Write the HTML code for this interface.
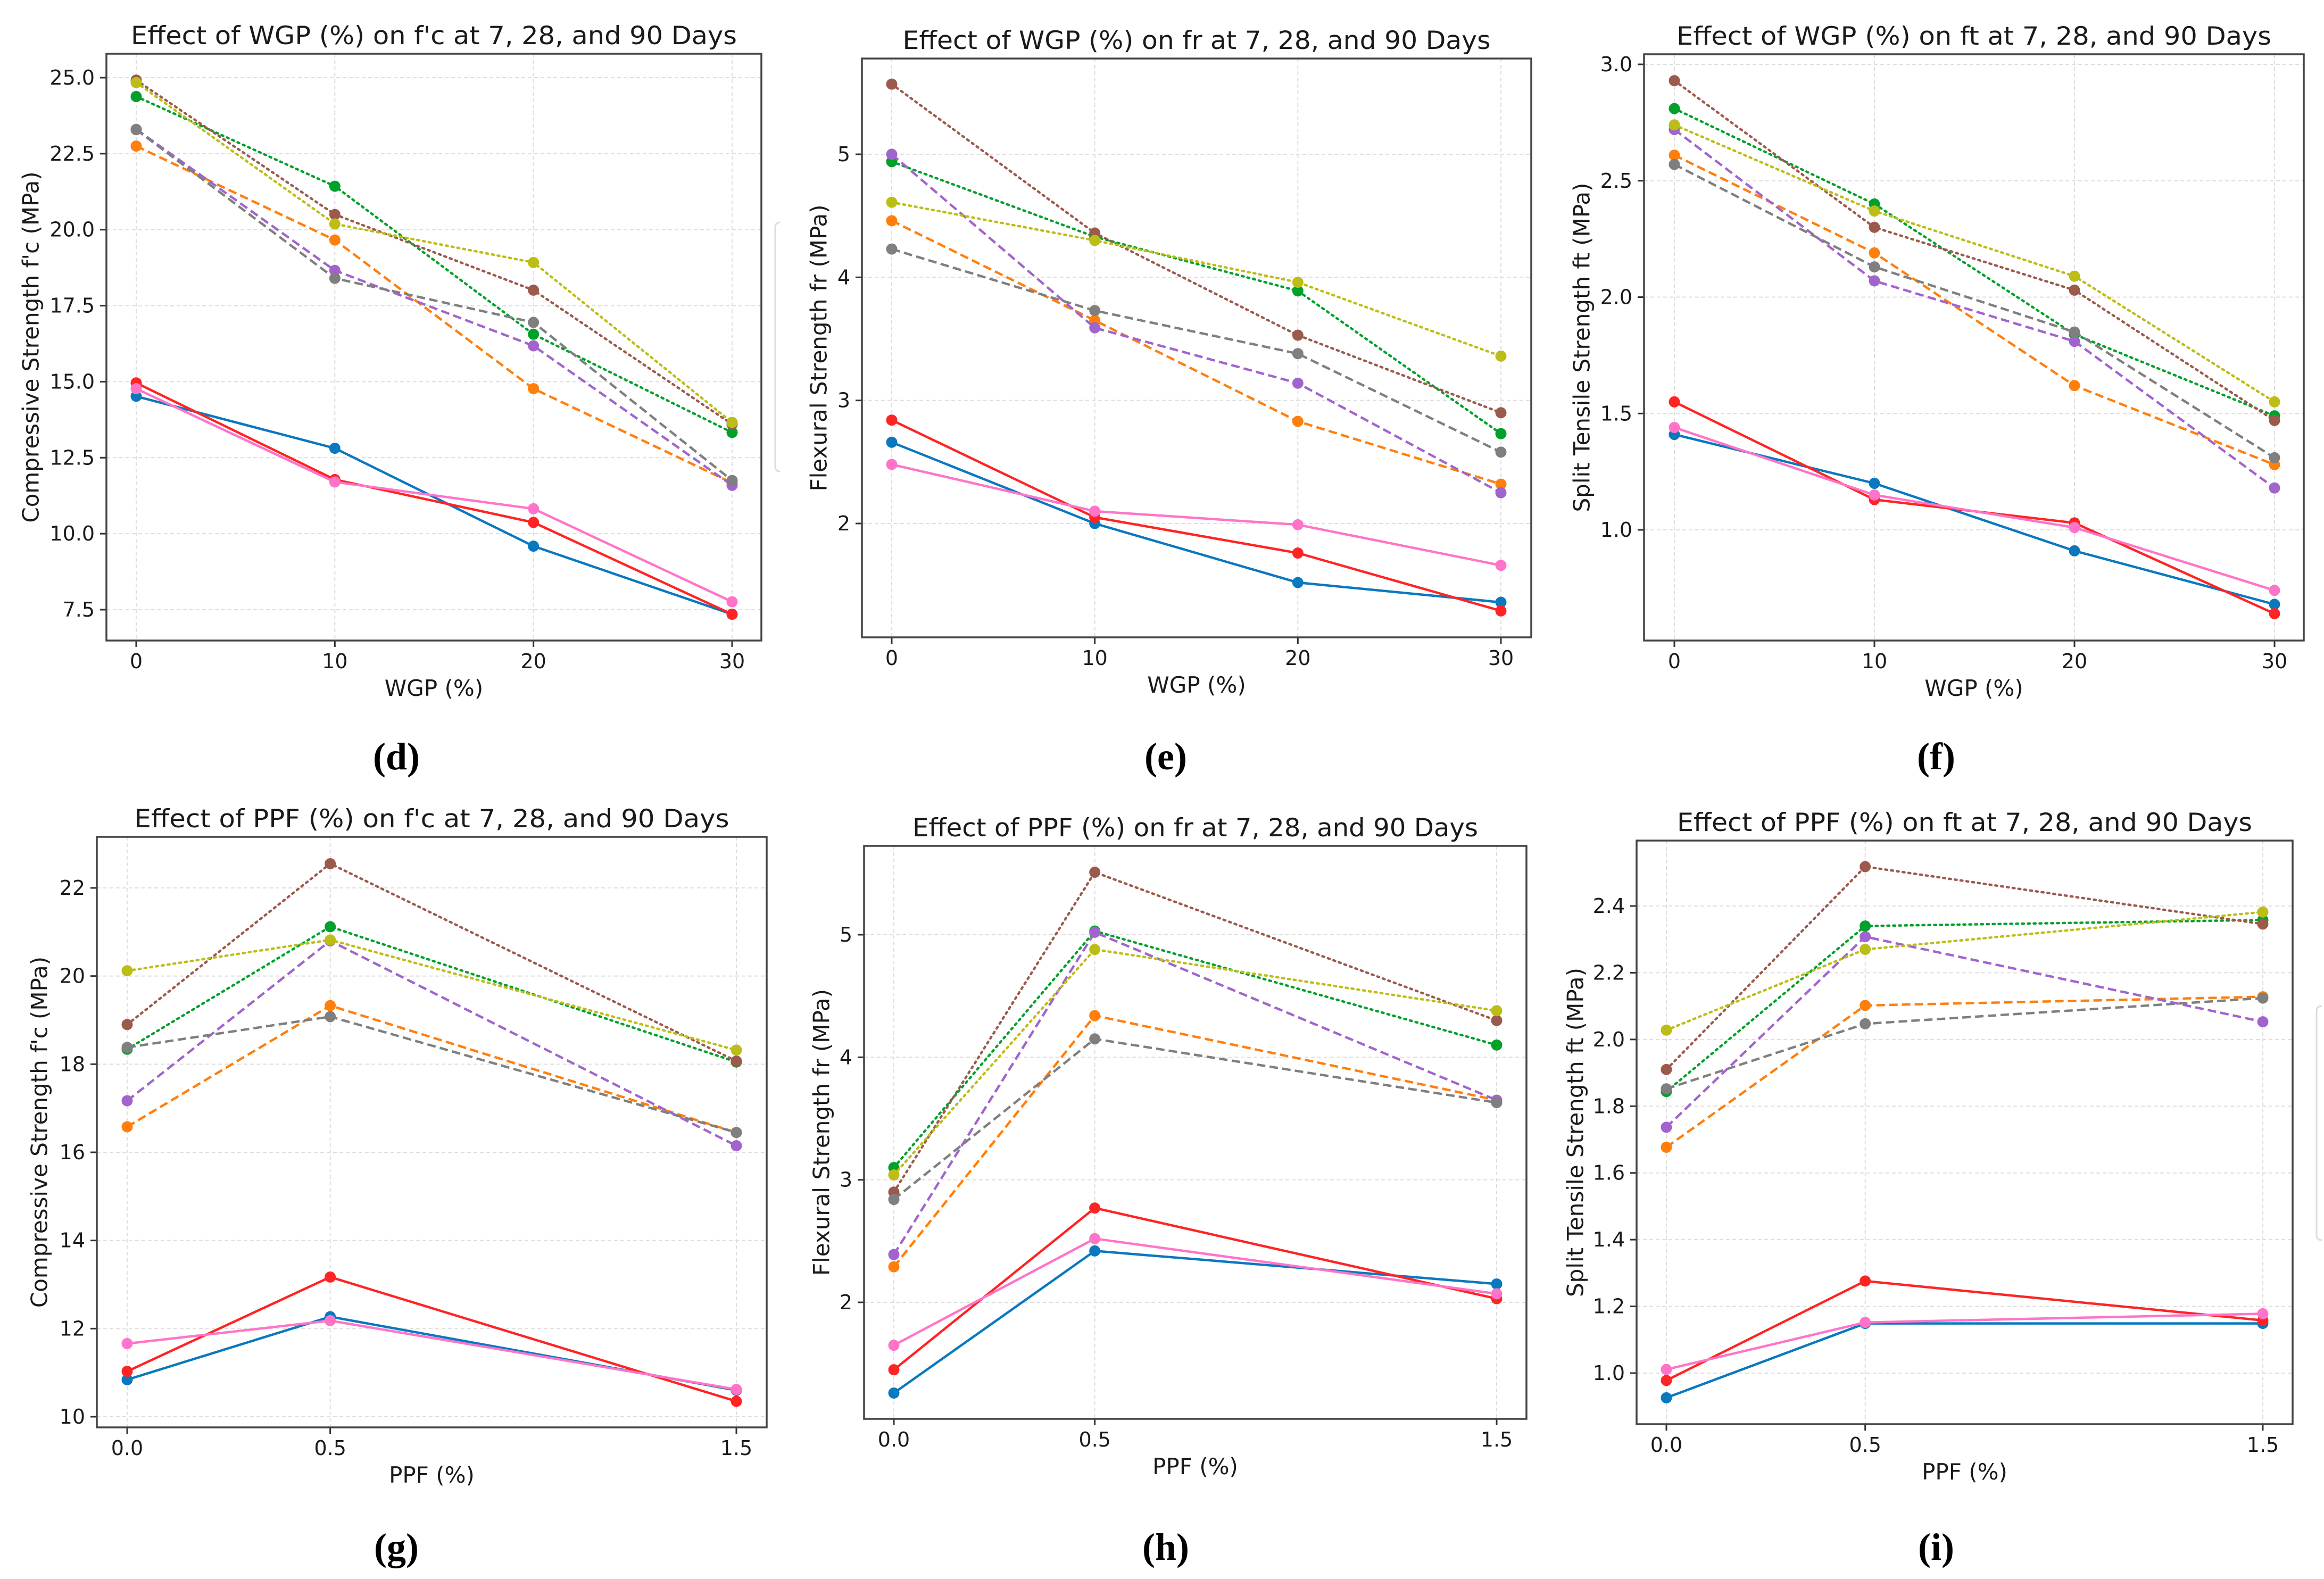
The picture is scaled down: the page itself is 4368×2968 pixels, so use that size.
<!DOCTYPE html>
<html><head><meta charset="utf-8">
<style>
html,body{margin:0;padding:0;background:#fff;}
svg{display:block;}
text{font-family:"DejaVu Sans","Liberation Sans",sans-serif;fill:#1a1a1a;}
.cap{font-family:"Liberation Serif",serif;font-weight:bold;fill:#000;}
</style></head>
<body>
<svg id="fig" xmlns="http://www.w3.org/2000/svg" width="4368" height="2968" viewBox="0 0 4368 2968">
<rect width="4368" height="2968" fill="#fff"/>
<path d="M1466 418 Q1457 418 1457 428 L1457 876 Q1457 886 1466 886" fill="none" stroke="#dcdcdc" stroke-width="3"/>
<path d="M4364 1891 Q4354 1891 4354 1901 L4354 2321 Q4354 2331 4364 2331" fill="none" stroke="#dcdcdc" stroke-width="3"/>
</svg>
<script>
// ---- categories ----
const wgpCats = [0, 10, 20, 30];
const ppfCats = [0, 0.5, 1.5];
// ---- panel d: f'c vs WGP ----
const dBlue   = [14.52, 12.81, 9.59, 7.35];
const dOrange = [22.75, 19.66, 14.77, 11.67];
const dGreen  = [24.38, 21.43, 16.56, 13.33];
const dRed    = [14.96, 11.78, 10.37, 7.35];
const dPurple = [23.30, 18.66, 16.18, 11.59];
const dBrown  = [24.92, 20.50, 18.01, 13.60];
const dPink   = [14.77, 11.70, 10.82, 7.76];
const dGrey   = [23.29, 18.40, 16.95, 11.75];
const dOlive  = [24.84, 20.19, 18.92, 13.66];
const dTicks  = [7.5, 10.0, 12.5, 15.0, 17.5, 20.0, 22.5, 25.0];
const dTickLabels = ["7.5","10.0","12.5","15.0","17.5","20.0","22.5","25.0"];
// ---- panel e: fr vs WGP ----
const eBlue   = [2.66, 2.00, 1.52, 1.36];
const eOrange = [4.46, 3.65, 2.83, 2.32];
const eGreen  = [4.94, 4.33, 3.89, 2.73];
const eRed    = [2.84, 2.05, 1.76, 1.29];
const ePurple = [5.00, 3.59, 3.14, 2.25];
const eBrown  = [5.57, 4.36, 3.53, 2.90];
const ePink   = [2.48, 2.10, 1.99, 1.66];
const eGrey   = [4.23, 3.73, 3.38, 2.58];
const eOlive  = [4.61, 4.30, 3.96, 3.36];
const eTicks  = [2, 3, 4, 5];
const eTickLabels = ["2","3","4","5"];
// ---- panel f: ft vs WGP ----
const fBlue   = [1.41, 1.20, 0.91, 0.68];
const fOrange = [2.61, 2.19, 1.62, 1.28];
const fGreen  = [2.81, 2.40, 1.84, 1.49];
const fRed    = [1.55, 1.13, 1.03, 0.64];
const fPurple = [2.72, 2.07, 1.81, 1.18];
const fBrown  = [2.93, 2.30, 2.03, 1.47];
const fPink   = [1.44, 1.15, 1.01, 0.74];
const fGrey   = [2.57, 2.13, 1.85, 1.31];
const fOlive  = [2.74, 2.37, 2.09, 1.55];
const fTicks  = [1.0, 1.5, 2.0, 2.5, 3.0];
const fTickLabels = ["1.0","1.5","2.0","2.5","3.0"];
// ---- panel g: f'c vs PPF ----
const gBlue   = [10.84, 12.27, 10.60];
const gOrange = [16.58, 19.33, 16.45];
const gGreen  = [18.34, 21.12, 18.05];
const gRed    = [11.03, 13.17, 10.35];
const gPurple = [17.17, 20.80, 16.15];
const gBrown  = [18.90, 22.55, 18.07];
const gPink   = [11.66, 12.18, 10.62];
const gGrey   = [18.38, 19.08, 16.45];
const gOlive  = [20.12, 20.82, 18.32];
const gTicks  = [10, 12, 14, 16, 18, 20, 22];
const gTickLabels = ["10","12","14","16","18","20","22"];
// ---- panel h: fr vs PPF ----
const hBlue   = [1.26, 2.42, 2.15];
const hOrange = [2.29, 4.34, 3.65];
const hGreen  = [3.10, 5.03, 4.10];
const hRed    = [1.45, 2.77, 2.03];
const hPurple = [2.39, 5.02, 3.65];
const hBrown  = [2.90, 5.51, 4.30];
const hPink   = [1.65, 2.52, 2.07];
const hGrey   = [2.84, 4.15, 3.63];
const hOlive  = [3.04, 4.88, 4.38];
const hTicks  = [2, 3, 4, 5];
const hTickLabels = ["2","3","4","5"];
// ---- panel i: ft vs PPF ----
const iBlue   = [0.926, 1.149, 1.149];
const iOrange = [1.677, 2.102, 2.128];
const iGreen  = [1.844, 2.340, 2.358];
const iRed    = [0.978, 1.276, 1.158];
const iPurple = [1.737, 2.308, 2.053];
const iBrown  = [1.910, 2.518, 2.346];
const iPink   = [1.011, 1.152, 1.178];
const iGrey   = [1.852, 2.047, 2.124];
const iOlive  = [2.028, 2.270, 2.382];
const iTicks  = [1.0, 1.2, 1.4, 1.6, 1.8, 2.0, 2.2, 2.4];
const iTickLabels = ["1.0","1.2","1.4","1.6","1.8","2.0","2.2","2.4"];

const wgpLabels = ["0","10","20","30"];
const ppfLabels = ["0.0","0.5","1.5"];

const NS = "http://www.w3.org/2000/svg";
const svg = document.getElementById("fig");
function mk(tag, attrs, parent){
  const e = document.createElementNS(NS, tag);
  for (const k in attrs) e.setAttribute(k, attrs[k]);
  (parent||svg).appendChild(e);
  return e;
}
const styles = [
  {key:"blue",   color:"#0a78bf", dash:null},
  {key:"orange", color:"#ff7f0e", dash:"16 8"},
  {key:"green",  color:"#00a12a", dash:"3.5 7.5"},
  {key:"red",    color:"#ff2424", dash:null},
  {key:"purple", color:"#a164cc", dash:"16 8"},
  {key:"brown",  color:"#9c5a4c", dash:"3.5 7.5"},
  {key:"pink",   color:"#ff74c8", dash:null},
  {key:"grey",   color:"#7f7f7f", dash:"16 8"},
  {key:"olive",  color:"#bcbd16", dash:"3.5 7.5"}
];

function panel(p){
  const g = mk("g", {});
  
  
  const [L,T,R,B] = p.box;
  const xs = v => p.x0px + (v - p.x0v) * (p.x1px - p.x0px) / (p.x1v - p.x0v);
  const ys = v => p.y0px + (v - p.y0v) * (p.y1px - p.y0px) / (p.y1v - p.y0v);
  p.yTicks.forEach((t,i)=>{
    const y = ys(t);
    const gl = mk("line",{x1:L,x2:R,y1:y,y2:y,stroke:"#dedede","stroke-width":2,"stroke-dasharray":"7 5"},g);
    
    
    const tk = mk("line",{x1:L-12,x2:L,y1:y,y2:y,stroke:"#333","stroke-width":3},g);
    
    
    const tl = mk("text",{x:L-22,y:y,"font-size":38,"text-anchor":"end","dominant-baseline":"central"},g);
    tl.textContent = p.yLabels[i];
    
    
  });
  p.cats.forEach((c,i)=>{
    const x = xs(c);
    const gl = mk("line",{x1:x,x2:x,y1:T,y2:B,stroke:"#dedede","stroke-width":2,"stroke-dasharray":"7 5"},g);
    
    
    const tk = mk("line",{x1:x,x2:x,y1:B,y2:B+12,stroke:"#333","stroke-width":3},g);
    
    
    const tl = mk("text",{x:x,y:B+52,"font-size":38,"text-anchor":"middle"},g);
    tl.textContent = p.xLabels[i];
    
    
  });
  styles.forEach((s,si)=>{
    const vals = p.series[si];
    const pts = vals.map((v,i)=>xs(p.cats[i]).toFixed(1)+","+ys(v).toFixed(1)).join(" ");
    const a = {points:pts,fill:"none",stroke:s.color,"stroke-width":4.5,"stroke-linejoin":"round"};
    if (s.dash){ a["stroke-dasharray"]=s.dash; if (s.dash.startsWith("3")) a["stroke-linecap"]="round"; }
    const ln = mk("polyline",a,g);
    
    
    vals.forEach((v,i)=>{
      const c = mk("circle",{cx:xs(p.cats[i]),cy:ys(v),r:10.5,fill:s.color},g);
      
      
    });
  });
  const fr = mk("rect",{x:L,y:T,width:R-L,height:B-T,fill:"none",stroke:"#444","stroke-width":3.5},g);
  
  
  const cx = (L+R)/2;
  const tt = mk("text",{x:cx,y:T-18,"font-size":47,"text-anchor":"middle",textLength:p.titleW,lengthAdjust:"spacingAndGlyphs"},g);
  tt.textContent = p.title;
  
  
  const xl = mk("text",{x:cx,y:B+104,"font-size":42,"text-anchor":"middle"},g);
  xl.textContent = p.xTitle;
  
  
  const yc = (T+B)/2, yx = L - p.yOff;
  const yl = mk("text",{x:yx,y:yc,"font-size":42,"text-anchor":"middle","dominant-baseline":"central",transform:"rotate(-90 "+yx+" "+yc+")"},g);
  yl.textContent = p.yTitle;
  
  
  const cp = mk("text",{x:p.capX,y:p.capY,"font-size":72,"text-anchor":"middle","class":"cap"},g);
  cp.textContent = p.cap;
  
  
}

panel({name:"panel-d",box:[200,101,1431,1204],cats:wgpCats,xLabels:wgpLabels,x0v:0,x1v:30,x0px:256,x1px:1376,
  y0v:25,y1v:7.5,y0px:146,y1px:1146,yTicks:dTicks,yLabels:dTickLabels,
  series:[dBlue,dOrange,dGreen,dRed,dPurple,dBrown,dPink,dGrey,dOlive],
  title:"Effect of WGP (%) on f'c at 7, 28, and 90 Days",titleW:1139,xTitle:"WGP (%)",yTitle:"Compressive Strength f'c (MPa)",yOff:142,cap:"(d)",capX:745,capY:1446});
panel({name:"panel-e",box:[1620,110,2878,1198],cats:wgpCats,xLabels:wgpLabels,x0v:0,x1v:30,x0px:1676,x1px:2821,
  y0v:5,y1v:2,y0px:290,y1px:984,yTicks:eTicks,yLabels:eTickLabels,
  series:[eBlue,eOrange,eGreen,eRed,ePurple,eBrown,ePink,eGrey,eOlive],
  title:"Effect of WGP (%) on fr at 7, 28, and 90 Days",titleW:1105,xTitle:"WGP (%)",yTitle:"Flexural Strength fr (MPa)",yOff:81,cap:"(e)",capX:2191,capY:1446});
panel({name:"panel-f",box:[3090,102,4330,1204],cats:wgpCats,xLabels:wgpLabels,x0v:0,x1v:30,x0px:3147,x1px:4275,
  y0v:3,y1v:1,y0px:121,y1px:996,yTicks:fTicks,yLabels:fTickLabels,
  series:[fBlue,fOrange,fGreen,fRed,fPurple,fBrown,fPink,fGrey,fOlive],
  title:"Effect of WGP (%) on ft at 7, 28, and 90 Days",titleW:1118,xTitle:"WGP (%)",yTitle:"Split Tensile Strength ft (MPa)",yOff:117,cap:"(f)",capX:3639,capY:1446});
panel({name:"panel-g",box:[182,1573,1441,2683],cats:ppfCats,xLabels:ppfLabels,x0v:0,x1v:1.5,x0px:239,x1px:1384,
  y0v:22,y1v:10,y0px:1669,y1px:2663,yTicks:gTicks,yLabels:gTickLabels,
  series:[gBlue,gOrange,gGreen,gRed,gPurple,gBrown,gPink,gGrey,gOlive],
  title:"Effect of PPF (%) on f'c at 7, 28, and 90 Days",titleW:1118,xTitle:"PPF (%)",yTitle:"Compressive Strength f'c (MPa)",yOff:108,cap:"(g)",capX:745,capY:2932});
panel({name:"panel-h",box:[1624,1590,2869,2667],cats:ppfCats,xLabels:ppfLabels,x0v:0,x1v:1.5,x0px:1680,x1px:2813,
  y0v:5,y1v:2,y0px:1757,y1px:2448,yTicks:hTicks,yLabels:hTickLabels,
  series:[hBlue,hOrange,hGreen,hRed,hPurple,hBrown,hPink,hGrey,hOlive],
  title:"Effect of PPF (%) on fr at 7, 28, and 90 Days",titleW:1063,xTitle:"PPF (%)",yTitle:"Flexural Strength fr (MPa)",yOff:80,cap:"(h)",capX:2191,capY:2932});
panel({name:"panel-i",box:[3076,1580,4309,2677],cats:ppfCats,xLabels:ppfLabels,x0v:0,x1v:1.5,x0px:3132,x1px:4253,
  y0v:2.4,y1v:1.0,y0px:1703,y1px:2581,yTicks:iTicks,yLabels:iTickLabels,
  series:[iBlue,iOrange,iGreen,iRed,iPurple,iBrown,iPink,iGrey,iOlive],
  title:"Effect of PPF (%) on ft at 7, 28, and 90 Days",titleW:1081,xTitle:"PPF (%)",yTitle:"Split Tensile Strength ft (MPa)",yOff:115,cap:"(i)",capX:3639,capY:2932});
</script>
</body></html>
